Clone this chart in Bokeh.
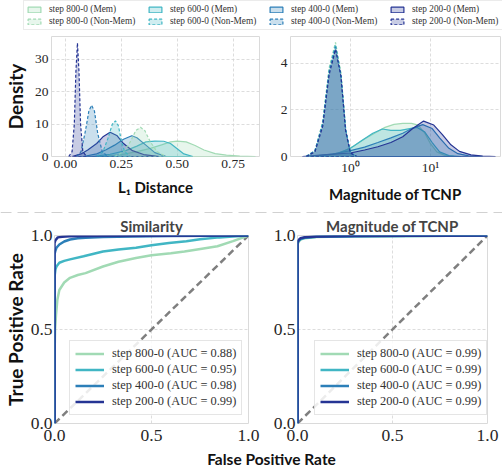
from bokeh.plotting import figure
from bokeh.models import Legend, LegendItem, Span, Label, FixedTicker, Range1d, NumeralTickFormatter
from bokeh.layouts import column, row
from bokeh.embed import file_html
from bokeh.resources import INLINE

# ---------------- data ----------------
steps = ["step 800-0", "step 600-0", "step 400-0", "step 200-0"]
colors = ["#a1dab4", "#41b6c4", "#2c7fb8", "#253494"]

# L1 distance densities (Mem = solid, Non-Mem = dashed)
l1_mem_800_x = [0.15, 0.25, 0.32, 0.38, 0.43, 0.47, 0.50, 0.54, 0.58, 0.62, 0.67, 0.72, 0.78, 0.85]
l1_mem_800_y = [0, 0.6, 1.5, 2.5, 3.6, 4.5, 4.75, 4.5, 3.4, 2.0, 0.9, 0.4, 0.15, 0]
l1_mem_600_x = [0.12, 0.20, 0.27, 0.32, 0.36, 0.40, 0.44, 0.47, 0.50, 0.53, 0.57]
l1_mem_600_y = [0, 0.7, 1.8, 3.2, 4.5, 4.75, 4.7, 4.0, 2.4, 0.8, 0]
l1_mem_400_x = [0.08, 0.14, 0.18, 0.22, 0.26, 0.297, 0.32, 0.36, 0.40, 0.45]
l1_mem_400_y = [0, 0.8, 2.0, 3.5, 5.3, 6.4, 5.8, 3.5, 1.2, 0]
l1_mem_200_x = [0.03, 0.07, 0.10, 0.14, 0.17, 0.20, 0.23, 0.26, 0.30, 0.35, 0.42]
l1_mem_200_y = [0, 0.8, 2.0, 4.0, 6.2, 7.5, 6.5, 4.0, 1.8, 0.6, 0]

l1_non_800_x = [0.22, 0.26, 0.29, 0.315, 0.336, 0.355, 0.38, 0.41, 0.45]
l1_non_800_y = [0, 1.5, 4.5, 8.0, 9.0, 8.0, 4.5, 1.5, 0]
l1_non_600_x = [0.14, 0.168, 0.19, 0.21, 0.224, 0.237, 0.25, 0.265, 0.29]
l1_non_600_y = [0, 1.5, 5.5, 10.0, 11.0, 9.5, 5.0, 1.5, 0]
l1_non_400_x = [0.05, 0.07, 0.09, 0.105, 0.117, 0.13, 0.145, 0.165, 0.19]
l1_non_400_y = [0, 1.5, 8.0, 14.0, 15.8, 14.0, 7.0, 1.5, 0]
l1_non_200_x = [0.015, 0.03, 0.04, 0.047, 0.054, 0.061, 0.068, 0.078, 0.095]
l1_non_200_y = [0, 1.5, 10.0, 26.0, 35.0, 26.0, 10.0, 1.5, 0]

# Magnitude of TCNP densities
tc_mem_800_x = [0.5, 0.8, 1.1, 1.5, 2.0, 2.7, 3.5, 4.5, 5.8, 7.0, 8.5, 10, 12, 15, 20]
tc_mem_800_y = [0, 0.2, 0.45, 0.75, 1.0, 1.25, 1.38, 1.42, 1.42, 1.35, 1.0, 0.55, 0.2, 0.05, 0]
tc_mem_600_x = [0.4, 0.7, 1.0, 1.4, 1.9, 2.5, 3.2, 4.2, 5.5, 6.8, 8.5, 10.5, 13, 17, 24]
tc_mem_600_y = [0, 0.15, 0.35, 0.7, 1.0, 1.18, 1.12, 1.12, 1.2, 1.25, 1.05, 0.6, 0.2, 0.04, 0]
tc_mem_400_x = [0.3, 0.6, 1.0, 1.5, 2.2, 3.2, 4.5, 6.0, 8.0, 10.5, 13, 17, 22, 30, 45]
tc_mem_400_y = [0, 0.1, 0.25, 0.4, 0.6, 0.8, 1.0, 1.22, 1.37, 1.2, 0.8, 0.35, 0.12, 0.03, 0]
tc_mem_200_x = [0.25, 0.5, 1.0, 1.5, 2.2, 3.2, 4.5, 6.0, 8.2, 11, 14, 18, 23, 32, 45, 65]
tc_mem_200_y = [0, 0.08, 0.15, 0.28, 0.42, 0.6, 0.85, 1.2, 1.52, 1.35, 0.95, 0.5, 0.22, 0.07, 0.02, 0]

tc_non_x = [0.28, 0.36, 0.45, 0.54, 0.65, 0.76, 0.87, 1.0, 1.2]
tc_non_800_y = [0, 0.25, 1.5, 3.8, 4.9, 3.6, 1.2, 0.15, 0]
tc_non_600_y = [0, 0.25, 1.45, 3.7, 4.8, 3.5, 1.2, 0.15, 0]
tc_non_400_y = [0, 0.25, 1.4, 3.6, 4.7, 3.5, 1.15, 0.15, 0]
tc_non_200_y = [0, 0.2, 1.3, 3.5, 4.6, 3.45, 1.1, 0.15, 0]

# ROC curves (Similarity)
sim_fpr_800 = [0, 0, 0.003, 0.008, 0.015, 0.025, 0.05, 0.08, 0.12, 0.16, 0.25, 0.33, 0.42, 0.5, 0.6, 0.67, 0.76, 0.84, 0.92, 1.0]
sim_tpr_800 = [0, 0.35, 0.5, 0.58, 0.66, 0.71, 0.75, 0.775, 0.79, 0.80, 0.835, 0.86, 0.88, 0.895, 0.905, 0.915, 0.93, 0.943, 0.97, 1.0]
sim_fpr_600 = [0, 0, 0.005, 0.01, 0.025, 0.05, 0.08, 0.15, 0.25, 0.33, 0.42, 0.5, 0.59, 0.68, 0.75, 0.85, 0.92, 1.0]
sim_tpr_600 = [0, 0.78, 0.82, 0.835, 0.855, 0.865, 0.873, 0.89, 0.915, 0.925, 0.935, 0.948, 0.96, 0.97, 0.98, 0.99, 0.995, 1.0]
sim_fpr_400 = [0, 0, 0.005, 0.01, 0.025, 0.05, 0.08, 0.12, 0.16, 0.25, 0.4, 0.6, 1.0]
sim_tpr_400 = [0, 0.9, 0.92, 0.935, 0.952, 0.968, 0.979, 0.985, 0.988, 0.992, 0.995, 0.998, 1.0]
sim_fpr_200 = [0, 0, 0.005, 0.017, 0.04, 0.076, 0.2, 0.5, 1.0]
sim_tpr_200 = [0, 0.96, 0.975, 0.99, 0.993, 0.996, 0.998, 0.999, 1.0]
sim_auc = ["0.88", "0.95", "0.98", "0.99"]

# ROC curves (Magnitude of TCNP)
mag_fpr = [0, 0, 0.005, 0.015, 0.04, 0.1, 0.3, 0.6, 1.0]
mag_tpr_800 = [0, 0.95, 0.965, 0.978, 0.986, 0.992, 0.996, 0.998, 1.0]
mag_tpr_600 = [0, 0.955, 0.97, 0.98, 0.988, 0.993, 0.996, 0.998, 1.0]
mag_tpr_400 = [0, 0.96, 0.972, 0.982, 0.99, 0.994, 0.997, 0.999, 1.0]
mag_tpr_200 = [0, 0.965, 0.975, 0.985, 0.991, 0.995, 0.997, 0.999, 1.0]
mag_auc = ["0.99", "0.99", "0.99", "0.99"]

chance_x = [0, 1]
chance_y = [0, 1]

l1_ticks = [0, 0.25, 0.5, 0.75]
l1_yticks = [0, 10, 20, 30]
tc_ticks = [1, 10]
tc_tick_labels = {1: "10\u2070", 10: "10\u00b9"}
tc_yticks = [0, 2, 4]
roc_ticks = [0, 0.5, 1.0]

# ---------------- styling helpers ----------------
SERIF = "Liberation Serif"
SANS = "Lato"
GRID = "#d4d4d4"


def style(p, tick_size):
    p.background_fill_color = "white"
    p.border_fill_color = "white"
    p.outline_line_color = "#dadada"
    p.outline_line_width = 1
    for ax in p.axis:
        ax.axis_line_color = None
        ax.major_tick_line_color = None
        ax.minor_tick_line_color = None
        ax.major_tick_out = 0
        ax.major_tick_in = 0
        ax.minor_tick_out = 0
        ax.major_label_text_font = SERIF
        ax.major_label_text_font_size = tick_size
        ax.major_label_text_color = "#262626"
        ax.major_label_standoff = 3
        ax.axis_label_text_font = SANS
        ax.axis_label_text_font_style = "bold"
        ax.axis_label_text_color = "#111111"
    for g in p.grid:
        g.grid_line_color = GRID
        g.grid_line_dash = "3 2"
        g.grid_line_width = 0.8


def mk(width, height, xr, yr, left, right, top, bottom, x_type="linear"):
    p = figure(width=width, height=height, x_range=xr, y_range=yr,
               x_axis_type=x_type, output_backend="svg", toolbar_location=None,
               min_border_left=left, min_border_right=right,
               min_border_top=top, min_border_bottom=bottom)
    return p


W = 502

# ---------------- legend strip ----------------
lg = figure(width=W, height=33, x_range=Range1d(10, 11), y_range=Range1d(10, 11),
            x_axis_type=None, y_axis_type=None, output_backend="svg",
            toolbar_location=None, min_border=0)
lg.outline_line_color = None
lg.grid.visible = False
l1_mem = [(l1_mem_800_x, l1_mem_800_y), (l1_mem_600_x, l1_mem_600_y),
          (l1_mem_400_x, l1_mem_400_y), (l1_mem_200_x, l1_mem_200_y)]
l1_non = [(l1_non_800_x, l1_non_800_y), (l1_non_600_x, l1_non_600_y),
          (l1_non_400_x, l1_non_400_y), (l1_non_200_x, l1_non_200_y)]
tc_mem = [(tc_mem_800_x, tc_mem_800_y), (tc_mem_600_x, tc_mem_600_y),
          (tc_mem_400_x, tc_mem_400_y), (tc_mem_200_x, tc_mem_200_y)]
tc_non = [(tc_non_x, tc_non_800_y), (tc_non_x, tc_non_600_y),
          (tc_non_x, tc_non_400_y), (tc_non_x, tc_non_200_y)]

mem_items, non_items = [], []
for i, c in enumerate(colors):
    rm = lg.patch(l1_mem[i][0], l1_mem[i][1], fill_color=c, fill_alpha=0.25,
                  line_color=c, line_width=1.2)
    rn = lg.patch(l1_non[i][0], l1_non[i][1], fill_color=c, fill_alpha=0.25,
                  line_color=c, line_width=1.2, line_dash="3 2")
    mem_items.append(LegendItem(label=steps[i] + " (Mem)", renderers=[rm]))
    non_items.append(LegendItem(label=steps[i] + " (Non-Mem)", renderers=[rn]))

top_leg = Legend(items=mem_items + non_items, orientation="horizontal", ncols=4,
                 location=(23, 3), label_text_font=SERIF, label_text_font_size="9.3px",
                 label_text_color="#333333", glyph_width=16, glyph_height=7,
                 label_height=12, label_width=98, label_standoff=7, spacing=0,
                 padding=2, margin=0, border_line_color="#d8d8d8",
                 background_fill_color="white", background_fill_alpha=1)
lg.add_layout(top_leg)

# ---------------- KDE: L1 distance ----------------
k1 = mk(272, 172, Range1d(-0.062, 0.868), Range1d(0, 37), 48, 13, 3, 47)
style(k1, "13.5px")
for i, c in enumerate(colors):
    k1.patch(l1_mem[i][0], l1_mem[i][1], fill_color=c, fill_alpha=0.25,
             line_color=c, line_width=1.2)
for i, c in enumerate(colors):
    k1.patch(l1_non[i][0], l1_non[i][1], fill_color=c, fill_alpha=0.25,
             line_color=c, line_width=1.2, line_dash="3 2")
k1.xaxis.ticker = FixedTicker(ticks=l1_ticks)
k1.xaxis.formatter = NumeralTickFormatter(format="0.00")
k1.yaxis.ticker = FixedTicker(ticks=l1_yticks)
k1.xaxis.axis_label = "L\u2081 Distance"
k1.yaxis.axis_label = "Density"
k1.xaxis.axis_label_text_font_size = "15px"
k1.yaxis.axis_label_text_font_size = "19px"
k1.xaxis.axis_label_standoff = 7
k1.yaxis.axis_label_standoff = 5

# ---------------- KDE: magnitude of TCNP ----------------
k2 = mk(230, 172, Range1d(0.178, 75), Range1d(0, 5.15), 18, 2, 3, 47, x_type="log")
style(k2, "13.5px")
for i, c in enumerate(colors):
    k2.patch(tc_mem[i][0], tc_mem[i][1], fill_color=c, fill_alpha=0.25,
             line_color=c, line_width=1.2)
for i, c in enumerate(colors):
    k2.patch(tc_non[i][0], tc_non[i][1], fill_color=c, fill_alpha=0.25,
             line_color=c, line_width=1.2, line_dash="3 2")
k2.xaxis.ticker = FixedTicker(ticks=tc_ticks, minor_ticks=[])
k2.xaxis.major_label_overrides = tc_tick_labels
k2.yaxis.ticker = FixedTicker(ticks=tc_yticks)
k2.xaxis.axis_label = "Magnitude of TCNP"
k2.xaxis.axis_label_text_font_size = "15px"
k2.xaxis.axis_label_standoff = 7

# ---------------- separator ----------------
sep = figure(width=W, height=8, x_range=Range1d(0, 1), y_range=Range1d(0, 1),
             x_axis_type=None, y_axis_type=None, output_backend="svg",
             toolbar_location=None, min_border=0)
sep.outline_line_color = None
sep.grid.visible = False
sep.add_layout(Span(location=0.5, dimension="width", line_color="#a3a3a3",
                    line_width=2, line_dash="11 6"))


# ---------------- ROC plots ----------------
def roc_fig(width, left, right, title, curves, aucs, leg_x, ylabel=None):
    p = mk(width, 237, Range1d(0, 1), Range1d(0, 1), left, right, 21, 27)
    style(p, "17.5px")
    p.xaxis.major_label_standoff = 6
    p.yaxis.major_label_standoff = 2
    p.title.text = title
    p.title.align = "center"
    p.title.text_font = SANS
    p.title.text_font_style = "bold"
    p.title.text_font_size = "15px"
    p.title.standoff = 2
    p.title.offset = 0
    p.line(chance_x, chance_y, line_color="#7f7f7f", line_width=2.5, line_dash="7 4")
    items = []
    for i, c in enumerate(colors):
        r = p.line(curves[i][0], curves[i][1], line_color=c, line_width=2.5)
        items.append(LegendItem(label=f"{steps[i]} (AUC = {aucs[i]})", renderers=[r]))
    leg = Legend(items=items, location=(leg_x, 8), label_text_font=SERIF,
                 label_text_font_size="12.4px", label_text_color="#333333",
                 glyph_width=29, glyph_height=15, label_height=15, label_standoff=8,
                 spacing=1, padding=5, margin=0, border_line_color="#cccccc",
                 background_fill_color="white", background_fill_alpha=0.85)
    p.add_layout(leg)
    p.xaxis.ticker = FixedTicker(ticks=roc_ticks)
    p.yaxis.ticker = FixedTicker(ticks=roc_ticks)
    p.xaxis.formatter = NumeralTickFormatter(format="0.0")
    p.yaxis.formatter = NumeralTickFormatter(format="0.0")
    if ylabel:
        p.yaxis.axis_label = ylabel
        p.yaxis.axis_label_text_font_size = "19px"
        p.yaxis.axis_label_standoff = 1
    return p


sim_curves = [(sim_fpr_800, sim_tpr_800), (sim_fpr_600, sim_tpr_600),
              (sim_fpr_400, sim_tpr_400), (sim_fpr_200, sim_tpr_200)]
mag_curves = [(mag_fpr, mag_tpr_800), (mag_fpr, mag_tpr_600),
              (mag_fpr, mag_tpr_400), (mag_fpr, mag_tpr_200)]

r1 = roc_fig(270, 52, 22, "Similarity", sim_curves, sim_auc, 15, "True Positive Rate")
r2 = roc_fig(232, 26, 15, "Magnitude of TCNP", mag_curves, mag_auc, 17)

# ---------------- shared x label ----------------
lab = figure(width=W, height=16, x_range=Range1d(0, 1), y_range=Range1d(0, 1),
             x_axis_type=None, y_axis_type=None, output_backend="svg",
             toolbar_location=None, min_border=0)
lab.outline_line_color = None
lab.grid.visible = False
lab.add_layout(Label(x=271, y=8, x_units="screen", y_units="screen",
                     text="False Positive Rate", text_align="center",
                     text_baseline="middle", text_font=SANS, text_font_style="bold",
                     text_font_size="15.5px", text_color="#111111"))

layout = column(lg, row(k1, k2), sep, row(r1, r2), lab)
open("out.html", "w").write(file_html(layout, INLINE))
